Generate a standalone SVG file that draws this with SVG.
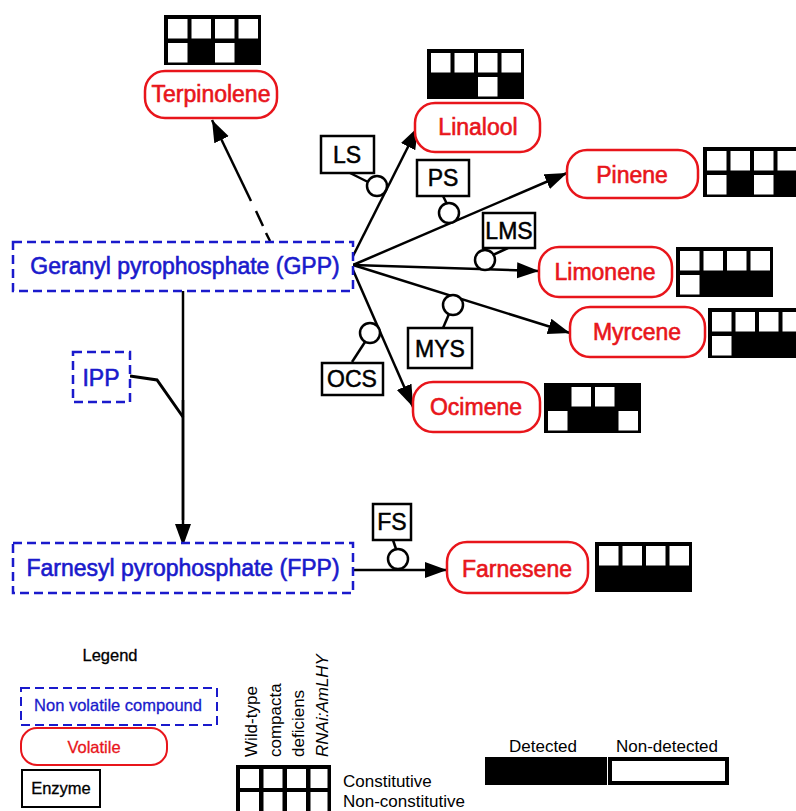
<svg xmlns="http://www.w3.org/2000/svg" width="796" height="811" viewBox="0 0 796 811">
<defs>
<style>
.np{fill:#fff;stroke:#1a1acc;stroke-width:2.5;stroke-dasharray:9 5}
.nt{font-family:"Liberation Sans",Arial,sans-serif;font-size:23px;fill:#1a1acc;stroke:#1a1acc;stroke-width:0.6;text-anchor:middle}
.vb{fill:#fff;stroke:#e8151b;stroke-width:2.5}
.vt{font-family:"Liberation Sans",Arial,sans-serif;font-size:23px;fill:#e8151b;stroke:#e8151b;stroke-width:0.6;text-anchor:middle}
.eb{fill:#fff;stroke:#000;stroke-width:2.5}
.et{font-family:"Liberation Sans",Arial,sans-serif;font-size:23px;fill:#000;stroke:#000;stroke-width:0.5;text-anchor:middle}
.cir{fill:#fff;stroke:#000;stroke-width:2.5}
.ln{fill:none;stroke:#000;stroke-width:2.5}
.arr{fill:none;stroke:#000;stroke-width:2.5;marker-end:url(#ah)}
.gb{fill:#000}
.gw{fill:#fff}
.lg{font-family:"Liberation Sans",Arial,sans-serif;font-size:16.5px;text-anchor:middle;stroke-width:0.3}
.cl{font-family:"Liberation Sans",Carlito,sans-serif;font-size:17px;fill:#000}
</style>
<marker id="ah" markerUnits="userSpaceOnUse" markerWidth="24" markerHeight="18" refX="22" refY="8" orient="auto">
<path d="M0,0 L22,8 L0,16 z" fill="#000"/>
</marker>
</defs>
<rect width="796" height="811" fill="#fff"/>

<g id="connectors">
<path class="ln" d="M270,241 L266,233 M263,226 L256,211"/>
<path class="arr" d="M251,201 L212,120"/>
<path class="ln" d="M183,291 L183,520"/>
<path class="arr" d="M183,400 L183,546"/>
<path class="ln" d="M130,376 L157,380 L183,417" style="stroke-width:3"/>
<path class="arr" d="M353,256 L418,127"/>
<path class="arr" d="M353,265 L567,173"/>
<path class="arr" d="M353,265 L539,271"/>
<path class="arr" d="M353,265 L570,333"/>
<path class="arr" d="M353,270 L413,407"/>
<path class="arr" d="M353,570 L447,570"/>
<path class="ln" d="M350,173 L368,182"/>
<path class="ln" d="M443,196 L447,204"/>
<path class="ln" d="M508,248 L493,255"/>
<path class="ln" d="M449,314 L443,328"/>
<path class="ln" d="M365,342 L352,362"/>
<path class="ln" d="M393,540 L396,549"/>
<circle class="cir" cx="377" cy="186" r="10"/>
<circle class="cir" cx="449" cy="213" r="10"/>
<circle class="cir" cx="485" cy="260" r="10"/>
<circle class="cir" cx="453" cy="305" r="10"/>
<circle class="cir" cx="370" cy="333" r="10"/>
<circle class="cir" cx="398" cy="559" r="10"/>
</g>

<g id="gpp">
<rect class="np" x="13" y="242" width="340" height="49"/>
<text class="nt" x="185" y="274">Geranyl pyrophosphate (GPP)</text>
</g>
<g id="fpp">
<rect class="np" x="13" y="543" width="340" height="50"/>
<text class="nt" x="183" y="576">Farnesyl pyrophosphate (FPP)</text>
</g>
<g id="ipp">
<rect class="np" x="73" y="352" width="57" height="50"/>
<text class="nt" x="101" y="386">IPP</text>
</g>

<g id="terpinolene">
<rect class="vb" x="145" y="71" width="132" height="47" rx="20"/>
<text class="vt" x="211" y="102">Terpinolene</text>
<g transform="translate(164,15)"><rect class="gb" width="97" height="50"/>
<rect class="gw" x="4" y="4" width="19.5" height="19.5"/><rect class="gw" x="27.5" y="4" width="19.5" height="19.5"/><rect class="gw" x="51" y="4" width="19.5" height="19.5"/><rect class="gw" x="74.5" y="4" width="19.5" height="19.5"/>
<rect class="gw" x="4" y="28" width="19.5" height="19.5"/><rect class="gw" x="51" y="28" width="19.5" height="19.5"/></g>
</g>

<g id="linalool">
<rect class="vb" x="415" y="103" width="125" height="49" rx="20"/>
<text class="vt" x="478" y="135">Linalool</text>
<g transform="translate(427,49)"><rect class="gb" width="97" height="50"/>
<rect class="gw" x="4" y="4" width="19.5" height="19.5"/><rect class="gw" x="27.5" y="4" width="19.5" height="19.5"/><rect class="gw" x="51" y="4" width="19.5" height="19.5"/><rect class="gw" x="74.5" y="4" width="19.5" height="19.5"/>
<rect class="gw" x="51" y="28" width="19.5" height="19.5"/></g>
</g>

<g id="pinene">
<rect class="vb" x="567" y="150" width="131" height="48" rx="20"/>
<text class="vt" x="632" y="183">Pinene</text>
<g transform="translate(703,147)"><rect class="gb" width="97" height="50"/>
<rect class="gw" x="4" y="4" width="19.5" height="19.5"/><rect class="gw" x="27.5" y="4" width="19.5" height="19.5"/><rect class="gw" x="51" y="4" width="19.5" height="19.5"/><rect class="gw" x="74.5" y="4" width="19.5" height="19.5"/>
<rect class="gw" x="4" y="28" width="19.5" height="19.5"/><rect class="gw" x="51" y="28" width="19.5" height="19.5"/></g>
</g>

<g id="limonene">
<rect class="vb" x="539" y="247" width="133" height="50" rx="20"/>
<text class="vt" x="605" y="280">Limonene</text>
<g transform="translate(676,247)"><rect class="gb" width="97" height="50"/>
<rect class="gw" x="4" y="4" width="19.5" height="19.5"/><rect class="gw" x="27.5" y="4" width="19.5" height="19.5"/><rect class="gw" x="51" y="4" width="19.5" height="19.5"/><rect class="gw" x="74.5" y="4" width="19.5" height="19.5"/>
<rect class="gw" x="4" y="28" width="19.5" height="19.5"/></g>
</g>

<g id="myrcene">
<rect class="vb" x="570" y="307" width="135" height="50" rx="20"/>
<text class="vt" x="637" y="340">Myrcene</text>
<g transform="translate(708,308)"><rect class="gb" width="97" height="50"/>
<rect class="gw" x="4" y="4" width="19.5" height="19.5"/><rect class="gw" x="27.5" y="4" width="19.5" height="19.5"/><rect class="gw" x="51" y="4" width="19.5" height="19.5"/><rect class="gw" x="74.5" y="4" width="19.5" height="19.5"/>
<rect class="gw" x="4" y="28" width="19.5" height="19.5"/></g>
</g>

<g id="ocimene">
<rect class="vb" x="413" y="382" width="127" height="50" rx="20"/>
<text class="vt" x="476" y="415">Ocimene</text>
<g transform="translate(544,383)"><rect class="gb" width="97" height="50"/>
<rect class="gw" x="27.5" y="4" width="19.5" height="19.5"/><rect class="gw" x="51" y="4" width="19.5" height="19.5"/>
<rect class="gw" x="4" y="28" width="19.5" height="19.5"/><rect class="gw" x="74.5" y="28" width="19.5" height="19.5"/></g>
</g>

<g id="farnesene">
<rect class="vb" x="447" y="542" width="141" height="51" rx="20"/>
<text class="vt" x="517" y="577">Farnesene</text>
<g transform="translate(595,542)"><rect class="gb" width="97" height="50"/>
<rect class="gw" x="4" y="4" width="19.5" height="19.5"/><rect class="gw" x="27.5" y="4" width="19.5" height="19.5"/><rect class="gw" x="51" y="4" width="19.5" height="19.5"/><rect class="gw" x="74.5" y="4" width="19.5" height="19.5"/></g>
</g>

<g id="ls"><rect class="eb" x="321" y="136" width="53" height="37"/><text class="et" x="347" y="163">LS</text></g>
<g id="ps"><rect class="eb" x="417" y="160" width="52" height="36"/><text class="et" x="443" y="186">PS</text></g>
<g id="lms"><rect class="eb" x="483" y="213" width="52" height="35"/><text class="et" x="509" y="239">LMS</text></g>
<g id="mys"><rect class="eb" x="408" y="328" width="64" height="40"/><text class="et" x="440" y="357">MYS</text></g>
<g id="ocs"><rect class="eb" x="322" y="363" width="61" height="32"/><text class="et" x="352" y="387">OCS</text></g>
<g id="fs"><rect class="eb" x="373" y="504" width="38" height="36"/><text class="et" x="392" y="530">FS</text></g>

<g id="legend">
<text class="lg" x="110" y="661" fill="#000" stroke="#000">Legend</text>
<rect class="np" x="21" y="688" width="196" height="37" style="stroke-width:2"/>
<text class="lg" x="118" y="711" fill="#1a1acc" stroke="#1a1acc">Non volatile compound</text>
<rect class="vb" x="21" y="728" width="146" height="37" rx="16" style="stroke-width:2"/>
<text class="lg" x="94" y="753" fill="#e8151b" stroke="#e8151b">Volatile</text>
<rect class="eb" x="22" y="770" width="78" height="37" style="stroke-width:2"/>
<text class="lg" x="61" y="794" fill="#000" stroke="#000">Enzyme</text>

<g transform="translate(236,765)"><rect class="gb" width="95" height="50"/>
<rect class="gw" x="4" y="4" width="19" height="19"/><rect class="gw" x="27.5" y="4" width="19" height="19"/><rect class="gw" x="51" y="4" width="19" height="19"/><rect class="gw" x="74.5" y="4" width="17" height="19"/>
<rect class="gw" x="4" y="27" width="19" height="19"/><rect class="gw" x="27.5" y="27" width="19" height="19"/><rect class="gw" x="51" y="27" width="19" height="19"/><rect class="gw" x="74.5" y="27" width="17" height="19"/></g>
<text class="cl" transform="translate(257,757) rotate(-90)">Wild-type</text>
<text class="cl" transform="translate(280.5,757) rotate(-90)">compacta</text>
<text class="cl" transform="translate(304,757) rotate(-90)">deficiens</text>
<text class="cl" transform="translate(327.5,757) rotate(-90)" font-style="italic">RNAi:AmLHY</text>
<text class="cl" x="343" y="787">Constitutive</text>
<text class="cl" x="343" y="807">Non-constitutive</text>

<rect x="485" y="757" width="122" height="28" fill="#000"/>
<rect x="610" y="759" width="117" height="24" fill="#fff" stroke="#000" stroke-width="4"/>
<text class="cl" x="543" y="752" text-anchor="middle">Detected</text>
<text class="cl" x="667" y="752" text-anchor="middle">Non-detected</text>
</g>
</svg>
